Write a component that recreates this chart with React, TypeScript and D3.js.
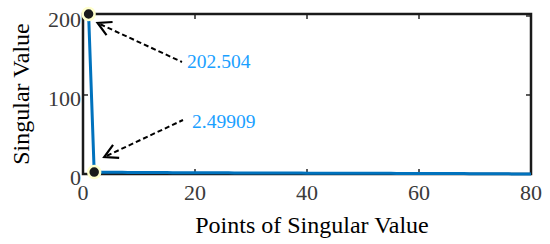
import React from 'react';
import * as d3 from 'd3';

// singular values (index 1..80)
const points = d3.range(1, 81);
const singularValues = [
  202.504, 2.49909, 2.31, 2.24, 2.18, 2.12, 2.07, 2.02, 1.98, 1.94,
  1.9, 1.86, 1.82, 1.79, 1.75, 1.72, 1.69, 1.66, 1.63, 1.6,
  1.57, 1.54, 1.51, 1.49, 1.46, 1.43, 1.41, 1.38, 1.36, 1.33,
  1.31, 1.28, 1.26, 1.24, 1.21, 1.19, 1.17, 1.15, 1.12, 1.1,
  1.08, 1.06, 1.04, 1.02, 1.0, 0.98, 0.96, 0.94, 0.92, 0.9,
  0.88, 0.86, 0.84, 0.82, 0.8, 0.78, 0.76, 0.74, 0.72, 0.7,
  0.68, 0.66, 0.64, 0.62, 0.6, 0.58, 0.56, 0.54, 0.3, 0.28,
  0.26, 0.24, 0.22, 0.2, 0.18, 0.16, 0.14, 0.12, 0.1, 0.08,
];
const xTicks = [0, 20, 40, 60, 80];
const yTicks = [0, 100, 200];
const labels = ['202.504', '2.49909'];

const W = 550, H = 244;
const left = 83, right = 531, top = 14, bottom = 174;
const tnr = { fontFamily: 'Times New Roman' };

export default function App() {
  const x = d3.scaleLinear().domain([0, 80]).range([left, right]);
  const y = d3.scaleLinear().domain([0, 202.504]).range([bottom, top]);
  const line = d3.line<number>()
    .x((_, i) => x(points[i]))
    .y(d => y(d));

  const ink = '#262626';

  // annotation: text position and arrow tip (offset from marker)
  const notes = [
    { i: 0, tx: 187, ty: 68, ex: 182, ey: 62, tipDx: 9, tipDy: 9 },
    { i: 1, tx: 192, ty: 128, ex: 183, ey: 120, tipDx: 10, tipDy: -15 },
  ];

  return (
    <svg width={W} height={H} style={{ position: 'absolute', left: 0, top: 0, background: '#fff' }}>
      {xTicks.map(t => (
        <g key={'x' + t}>
          <line x1={x(t)} x2={x(t)} y1={bottom} y2={bottom - 5} stroke={ink} strokeWidth={1.5} />
          <line x1={x(t)} x2={x(t)} y1={top} y2={top + 5} stroke={ink} strokeWidth={1.5} />
          <text x={x(t)} y={200} textAnchor="middle" fontSize={22} style={tnr} fill="#3a3a3a">{t}</text>
        </g>
      ))}
      {yTicks.map(t => (
        <g key={'y' + t}>
          <line x1={left} x2={left + 5} y1={y(t)} y2={y(t)} stroke={ink} strokeWidth={1.5} />
          <line x1={right} x2={right - 5} y1={y(t)} y2={y(t)} stroke={ink} strokeWidth={1.5} />
          <text x={left - 2} y={y(t) + 11} textAnchor="end" fontSize={22} style={tnr} fill="#3a3a3a">{t}</text>
        </g>
      ))}
      <rect x={left} y={top} width={right - left} height={bottom - top} fill="none" stroke="#1a1a1a" strokeWidth={2.5} />

      <path d={line(singularValues) || ''} fill="none" stroke="#0072BD" strokeWidth={3} />

      {notes.map(n => {
        const px = x(points[n.i]);
        const py = y(singularValues[n.i]);
        const tipX = px + n.tipDx, tipY = py + n.tipDy;
        const ang = Math.atan2(n.ey - tipY, n.ex - tipX);
        const a1 = ang + 0.5, a2 = ang - 0.5, L = 15;
        return (
          <g key={n.i}>
            <line x1={tipX + 3 * Math.cos(ang)} y1={tipY + 3 * Math.sin(ang)} x2={n.ex} y2={n.ey}
              stroke="#000" strokeWidth={2} strokeDasharray="5,3" />
            <path d={`M${tipX + L * Math.cos(a1)},${tipY + L * Math.sin(a1)} L${tipX},${tipY} L${tipX + L * Math.cos(a2)},${tipY + L * Math.sin(a2)}`}
              fill="none" stroke="#000" strokeWidth={2.2} />
            <text x={n.tx} y={n.ty} fontSize={19.5} style={tnr} fill="#1aa0ff">{labels[n.i]}</text>
          </g>
        );
      })}

      {[0, 1].map(i => (
        <circle key={i} cx={x(points[i])} cy={y(singularValues[i])} r={6} fill="#1a1a1a" stroke="#ffffcc" strokeWidth={2.5} />
      ))}

      <text x={312} y={233} textAnchor="middle" fontSize={24} style={tnr} fill="#000">Points of Singular Value</text>
      <text transform="translate(29,94) rotate(-90)" textAnchor="middle" fontSize={24} style={tnr} fill="#000">Singular Value</text>
    </svg>
  );
}
